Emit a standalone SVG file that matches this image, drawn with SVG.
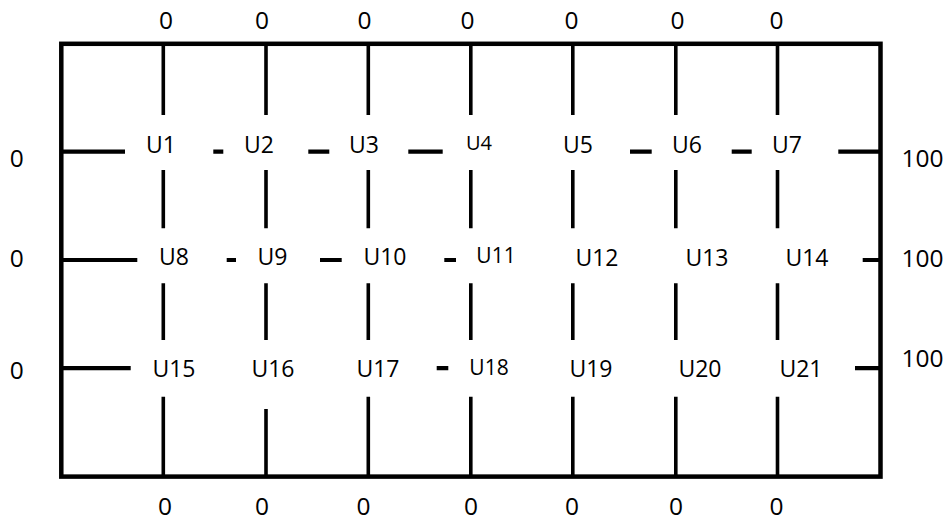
<svg xmlns="http://www.w3.org/2000/svg" width="949" height="521" viewBox="0 0 949 521">
<style>
.frame{fill:none;stroke:#000;stroke-width:4.5;stroke-linejoin:miter}
.ln{stroke:#000;stroke-width:3.6;fill:none}
text{font-family:"Open Sans","Liberation Sans",Arial,sans-serif;fill:#000}
.v{font-size:24.5px;text-anchor:middle}
.r{font-size:24.5px;text-anchor:start}
.u{font-size:23px;text-anchor:middle}
.us{font-size:21px;text-anchor:middle}
.ut{font-size:20px;text-anchor:middle}
</style>
<rect width="949" height="521" fill="#fff"/>
<g id="frame">
<rect class="frame" x="61.3" y="43.8" width="819.2" height="432.8"/>
</g>
<g id="connectors">
<path class="ln" d="M163.3 44V115M163.3 170V228.3M163.3 283.3V340M163.3 396.7V476.6"/>
<path class="ln" d="M266 44V115M266 170V228.3M266 283.3V340M266 409V476.6"/>
<path class="ln" d="M368.3 44V115M368.3 170V228.3M368.3 283.3V340M368.3 396.7V476.6"/>
<path class="ln" d="M470.8 44V115M470.8 170V228.3M470.8 283.3V340M470.8 396.7V476.6"/>
<path class="ln" d="M572.8 44V115M572.8 170V228.3M572.8 283.3V340M572.8 396.7V476.6"/>
<path class="ln" d="M675.8 44V115M675.8 170V228.3M675.8 283.3V340M675.8 396.7V476.6"/>
<path class="ln" d="M777.5 44V115M777.5 170V228.3M777.5 283.3V340M777.5 396.7V476.6"/>
<path class="ln" style="stroke-width:4.2" d="M61 151.7H125M213.3 151.7H223.3M308.3 151.7H329.3M408.3 151.7H442.7M630 151.7H651.7M731.7 151.7H751.7M838.3 151.7H880"/>
<path class="ln" style="stroke-width:4.2" d="M61 260H137.3M226.7 260H236M320 260H341.7M444.3 260H456M862.7 260H880"/>
<path class="ln" style="stroke-width:4.2" d="M61 368.2H130.7M436.7 368.2H448.3M855 368.2H880"/>
</g>
<g id="top-values">
<text class="v" x="166" y="29.3">0</text>
<text class="v" x="262" y="29.3">0</text>
<text class="v" x="364.5" y="29.3">0</text>
<text class="v" x="467.5" y="29.3">0</text>
<text class="v" x="571.5" y="29.3">0</text>
<text class="v" x="677.5" y="29.3">0</text>
<text class="v" x="776.5" y="29.3">0</text>
</g>
<g id="bottom-values">
<text class="v" x="165" y="514.5">0</text>
<text class="v" x="262" y="514.5">0</text>
<text class="v" x="363.5" y="514.5">0</text>
<text class="v" x="471" y="514.5">0</text>
<text class="v" x="572" y="514.5">0</text>
<text class="v" x="676" y="514.5">0</text>
<text class="v" x="776.5" y="514.5">0</text>
</g>
<g id="left-values">
<text class="v" x="16.7" y="166.5">0</text>
<text class="v" x="16.7" y="266.5">0</text>
<text class="v" x="16.7" y="378.7">0</text>
</g>
<g id="right-values">
<text class="r" x="901.5" y="166.5">100</text>
<text class="r" x="901.5" y="266.5">100</text>
<text class="r" x="901.5" y="366.5">100</text>
</g>
<g id="U1"><text class="u" x="161" y="152.5">U1</text></g>
<g id="U2"><text class="u" x="259" y="152.5">U2</text></g>
<g id="U3"><text class="u" x="364" y="152.5">U3</text></g>
<g id="U4"><text class="ut" x="479" y="150">U4</text></g>
<g id="U5"><text class="u" x="578" y="152.8">U5</text></g>
<g id="U6"><text class="u" x="687" y="152.8">U6</text></g>
<g id="U7"><text class="u" x="787" y="152.5">U7</text></g>
<g id="U8"><text class="u" x="174" y="265">U8</text></g>
<g id="U9"><text class="u" x="272.5" y="265">U9</text></g>
<g id="U10"><text class="u" x="385" y="265">U10</text></g>
<g id="U11"><text class="us" x="496" y="263">U11</text></g>
<g id="U12"><text class="u" x="597" y="266">U12</text></g>
<g id="U13"><text class="u" x="707" y="266">U13</text></g>
<g id="U14"><text class="u" x="807" y="265.5">U14</text></g>
<g id="U15"><text class="u" x="174" y="377">U15</text></g>
<g id="U16"><text class="u" x="273" y="377">U16</text></g>
<g id="U17"><text class="u" x="378" y="377">U17</text></g>
<g id="U18"><text class="us" x="489" y="375">U18</text></g>
<g id="U19"><text class="u" x="591" y="377">U19</text></g>
<g id="U20"><text class="u" x="700" y="377">U20</text></g>
<g id="U21"><text class="u" x="801" y="377">U21</text></g>
</svg>
